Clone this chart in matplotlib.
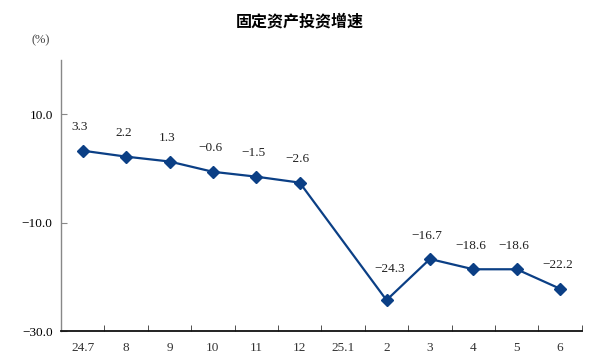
import numpy as np
import matplotlib.pyplot as plt

months = ['24.7', '8', '9', '10', '11', '12', '25.1', '2', '3', '4', '5', '6']
growth = [3.3, 2.2, 1.3, -0.6, -1.5, -2.6, np.nan, -24.3, -16.7, -18.6, -18.6, -22.2]
yticks = [10.0, -10.0, -30.0]

num_font = 'Liberation Serif'
line_color = '#0b3f85'

fig = plt.figure(figsize=(6, 3.62), dpi=100)
ax = fig.add_axes([0.1017, 0.0856, 0.868, 0.748])

x = np.arange(len(months))
y = np.array(growth)
ok = ~np.isnan(y)
ax.plot(x[ok], y[ok], color=line_color, lw=1.6, marker='D', ms=6.5,
        mfc=line_color, mec=line_color, zorder=3)

for xi, yi in zip(x[ok], y[ok]):
    # the label on the low point sits higher so it clears the line
    off = (2, 18) if yi == min(y[ok]) else (-2, 12.5)
    ax.annotate(f'{yi:.1f}'.replace('-', '\u2212'), (xi, yi), xytext=off,
                textcoords='offset points', ha='center', va='bottom',
                fontsize=9.5, family=num_font, color='#222222')

ax.set_xlim(-0.5, len(months) - 0.5)
ax.set_ylim(-30, 20)
ax.set_yticks(yticks)
ax.set_yticklabels([f'{v:.1f}'.replace('-', '\u2212') for v in yticks],
                   family=num_font, fontsize=9.5)
ax.set_xticks(x)
ax.set_xticklabels(months, family=num_font, fontsize=9.5, color='#333333')
ax.set_xticks(np.arange(0.5, len(months), 1), minor=True)
ax.tick_params(axis='x', which='major', length=0, pad=8)
ax.tick_params(axis='x', which='minor', direction='in', length=4, color='#333333')
ax.tick_params(axis='y', direction='in', length=4, color='#888888', pad=6)

for s in ['top', 'right']:
    ax.spines[s].set_visible(False)
ax.spines['left'].set_color('#888888')
ax.spines['left'].set_linewidth(1.0)
ax.spines['bottom'].set_color('#111111')
ax.spines['bottom'].set_linewidth(1.3)

fig.text(0.5, 0.94, '固定资产投资增速', ha='center', va='center',
         fontsize=11.5, fontweight='bold', family=['Noto Sans CJK SC', 'DejaVu Sans'])
fig.text(0.067, 0.89, '(%)', ha='center', va='center', fontsize=9,
         family=num_font, color='#444444')

fig.savefig('out.png', dpi=100)
